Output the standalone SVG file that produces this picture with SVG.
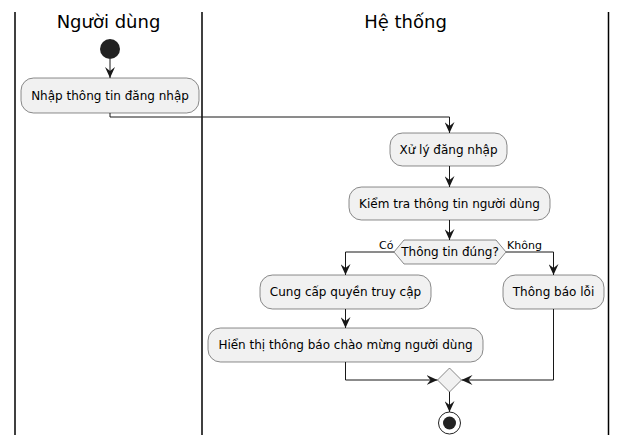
<svg xmlns="http://www.w3.org/2000/svg" width="627" height="445" viewBox="0 0 627 445">
<defs>
<style>
.lane{stroke:#000;stroke-width:1.5;fill:none}
.hdr{font-family:"DejaVu Sans","Noto Sans",sans-serif;font-size:18px;fill:#000;text-anchor:middle}
.box{fill:#F1F1F1;stroke:#181818;stroke-width:0.5}
.lbl{font-family:"DejaVu Sans","Noto Sans",sans-serif;font-size:12px;fill:#000;text-anchor:middle}
.guard{font-family:"DejaVu Sans","Noto Sans",sans-serif;font-size:11px;fill:#000}
.edge{stroke:#181818;stroke-width:1;fill:none;marker-end:url(#arr)}
</style>
<marker id="arr" viewBox="0 0 11 10" refX="11" refY="5" markerWidth="11" markerHeight="10" orient="auto" markerUnits="userSpaceOnUse">
<path d="M0,0 L11,5 L0,10 L4,5 Z" fill="#181818"/>
</marker>
</defs>
<rect width="627" height="445" fill="#fff"/>
<g id="lanes">
<line class="lane" x1="15" y1="12" x2="15" y2="435"/>
<line class="lane" x1="202" y1="12" x2="202" y2="435"/>
<line class="lane" x1="608.5" y1="12" x2="608.5" y2="435"/>
<text class="hdr" x="108.5" y="28">Người dùng</text>
<text class="hdr" x="405.5" y="28">Hệ thống</text>
</g>
<g id="connectors">
<path class="edge" d="M110,59 L110,78"/>
<path class="edge" d="M110,113 L110,117 L449.5,117 L449.5,133"/>
<path class="edge" d="M449.5,166 L449.5,187"/>
<path class="edge" d="M449.5,220 L449.5,240"/>
<path class="edge" d="M394,252 L345.5,252 L345.5,275"/>
<path class="edge" d="M506,252 L553.5,252 L553.5,275"/>
<path class="edge" d="M345.5,309 L345.5,328"/>
<path class="edge" d="M345.5,362 L345.5,380 L437.5,380"/>
<path class="edge" d="M553.5,309 L553.5,380 L461.5,380"/>
<path class="edge" d="M449.5,392 L449.5,412"/>
<text class="guard" x="379" y="249">Có</text>
<text class="guard" x="507" y="249">Không</text>
</g>
<g id="start"><circle cx="110" cy="49" r="10" fill="#222"/></g>
<g id="nhap"><rect class="box" x="21" y="78" width="178" height="35" rx="12.5"/><text class="lbl" x="110" y="100">Nhập thông tin đăng nhập</text></g>
<g id="xuly"><rect class="box" x="390" y="133" width="117" height="33" rx="12.5"/><text class="lbl" x="448.5" y="154">Xử lý đăng nhập</text></g>
<g id="kiemtra"><rect class="box" x="349" y="187" width="201" height="33" rx="12.5"/><text class="lbl" x="449.5" y="208">Kiểm tra thông tin người dùng</text></g>
<g id="decision"><polygon class="box" points="394,252 404,240 496,240 506,252 496,264 404,264"/><text class="lbl" x="450" y="256">Thông tin đúng?</text></g>
<g id="cungcap"><rect class="box" x="260" y="275" width="171" height="34" rx="12.5"/><text class="lbl" x="345.5" y="296">Cung cấp quyền truy cập</text></g>
<g id="thongbao"><rect class="box" x="503" y="275" width="101" height="34" rx="12.5"/><text class="lbl" x="553.5" y="296">Thông báo lỗi</text></g>
<g id="hienthi"><rect class="box" x="208" y="328" width="275" height="34" rx="12.5"/><text class="lbl" x="345.5" y="349">Hiển thị thông báo chào mừng người dùng</text></g>
<g id="merge"><polygon class="box" points="437.5,380 449.5,368 461.5,380 449.5,392"/></g>
<g id="end"><circle cx="449.5" cy="423" r="11" fill="none" stroke="#222" stroke-width="1"/><circle cx="449.5" cy="423" r="6.5" fill="#222"/></g>
</svg>
